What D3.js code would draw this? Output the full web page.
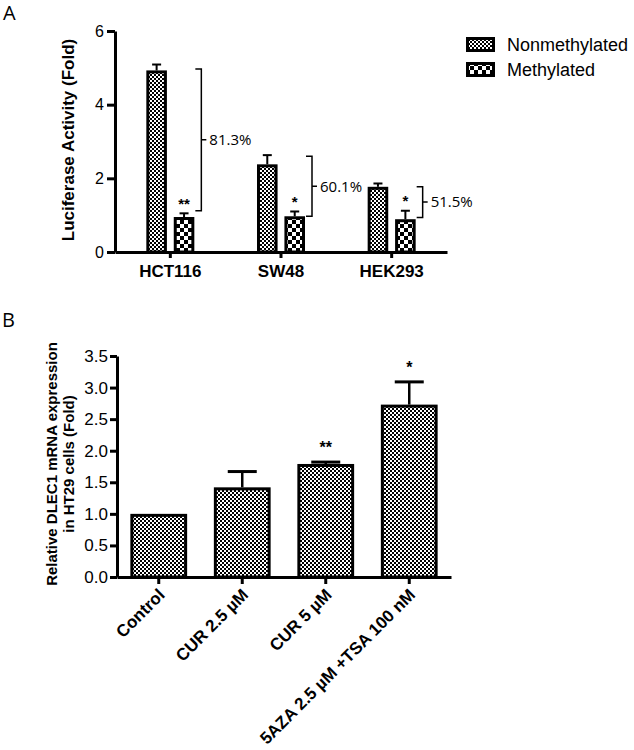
<!DOCTYPE html>
<html>
<head>
<meta charset="utf-8">
<script src="https://cdn.jsdelivr.net/npm/d3@7"></script>
<style>
  body { margin: 0; background: #fff; }
  svg { display: block; font-family: "Liberation Sans", Arial, sans-serif; }
</style>
</head>
<body>
<div id="chart"></div>
<script>
// ---- panel A data ----
var groupsA = ["HCT116", "SW48", "HEK293"];
var seriesA = ["Nonmethylated", "Methylated"];
var nonmethMean = [4.93, 2.38, 1.77];
var nonmethErr = [0.16, 0.25, 0.09];
var methMean = [0.95, 0.97, 0.89];
var methErr = [0.10, 0.13, 0.23];
var starsA = ["**", "*", "*"];
var reductionA = ["81.3%", "60.1%", "51.5%"];
var bracketTop = [4.97, 2.6, 1.77];
var bracketBottom = [1.12, 0.97, 0.94];
var ticksA = [0, 2, 4, 6];

// ---- panel B data ----
var groupsB = ["Control", "CUR 2.5 \u00b5M", "CUR 5 \u00b5M", "5AZA 2.5 \u00b5M +TSA 100 nM"];
var meanB = [1.0, 1.42, 1.79, 2.73];
var errB = [0, 0.25, 0.03, 0.36];
var starsB = ["", "", "**", "*"];
var ticksB = [0, 0.5, 1, 1.5, 2, 2.5, 3, 3.5];

var svgWidth = 634;
var svgHeight = 750;

var svg = d3.select("#chart")
  .append("svg")
  .attr("width", svgWidth)
  .attr("height", svgHeight);

// checker patterns
var defs = svg.append("defs");
function checker(id, s) {
  var p = defs.append("pattern")
    .attr("id", id)
    .attr("patternUnits", "userSpaceOnUse")
    .attr("width", s * 2)
    .attr("height", s * 2);
  p.append("rect").attr("width", s * 2).attr("height", s * 2).attr("fill", "#fff");
  p.append("rect").attr("width", s).attr("height", s).attr("fill", "#000");
  p.append("rect").attr("x", s).attr("y", s).attr("width", s).attr("height", s).attr("fill", "#000");
}
checker("fine", 2);
checker("coarse", 4);
var fills = {"Nonmethylated": "url(#fine)", "Methylated": "url(#coarse)"};

function styleAxis(g, fs, bold) {
  g.select(".domain").attr("stroke", "#000").attr("stroke-width", 3);
  g.selectAll(".tick line").attr("stroke", "#000").attr("stroke-width", 3);
  g.selectAll(".tick text")
    .attr("fill", "#000")
    .style("font-size", fs + "px")
    .style("font-weight", bold ? "bold" : "normal");
}

// =================== PANEL A ===================
var yA = d3.scaleLinear().domain([0, 6]).range([252, 31]);
var xA = d3.scaleBand().domain(groupsA).range([115, 447]);
var xSub = d3.scaleBand().domain(seriesA).range([-24, 24]).paddingInner(0.25);

svg.append("text")
  .attr("x", 3).attr("y", 20)
  .style("font-family", "'Open Sans', sans-serif")
  .style("font-size", "20px")
  .text("A");

var yAxisA = svg.append("g")
  .attr("transform", "translate(115,0)")
  .call(d3.axisLeft(yA).tickValues(ticksA).tickSize(8).tickSizeOuter(0).tickPadding(3).tickFormat(d3.format("d")));
styleAxis(yAxisA, 16, false);

var xAxisA = svg.append("g")
  .attr("transform", "translate(0,252)")
  .call(d3.axisBottom(xA).tickSize(6).tickSizeOuter(0).tickPadding(7));
styleAxis(xAxisA, 17, true);

svg.append("text")
  .attr("transform", "translate(74,140) rotate(-90)")
  .attr("text-anchor", "middle")
  .style("font-size", "17px")
  .style("font-weight", "bold")
  .text("Luciferase Activity (Fold)");

// bar rows
var rowsA = [];
groupsA.forEach(function(g, i) {
  rowsA.push({group: g, series: "Nonmethylated", mean: nonmethMean[i], err: nonmethErr[i], star: ""});
  rowsA.push({group: g, series: "Methylated", mean: methMean[i], err: methErr[i], star: starsA[i]});
});

var barA = svg.append("g").selectAll("g")
  .data(rowsA)
  .enter()
  .append("g");

barA.append("line")
  .attr("x1", d => xA(d.group) + xA.bandwidth() / 2 + xSub(d.series) + xSub.bandwidth() / 2)
  .attr("x2", d => xA(d.group) + xA.bandwidth() / 2 + xSub(d.series) + xSub.bandwidth() / 2)
  .attr("y1", d => yA(d.mean))
  .attr("y2", d => yA(d.mean + d.err))
  .attr("stroke", "#000").attr("stroke-width", 2);

barA.append("line")
  .attr("x1", d => xA(d.group) + xA.bandwidth() / 2 + xSub(d.series) + xSub.bandwidth() / 2 - 4.5)
  .attr("x2", d => xA(d.group) + xA.bandwidth() / 2 + xSub(d.series) + xSub.bandwidth() / 2 + 4.5)
  .attr("y1", d => yA(d.mean + d.err))
  .attr("y2", d => yA(d.mean + d.err))
  .attr("stroke", "#000").attr("stroke-width", 2);

barA.append("rect")
  .attr("x", d => xA(d.group) + xA.bandwidth() / 2 + xSub(d.series) + 1.5)
  .attr("y", d => yA(d.mean) + 1.5)
  .attr("width", xSub.bandwidth() - 3)
  .attr("height", d => yA(0) - yA(d.mean) - 1.5)
  .attr("fill", d => fills[d.series])
  .attr("stroke", "#000").attr("stroke-width", 3);

barA.append("text")
  .attr("x", d => xA(d.group) + xA.bandwidth() / 2 + xSub(d.series) + xSub.bandwidth() / 2)
  .attr("y", d => yA(d.mean + d.err) - 4.5)
  .attr("text-anchor", "middle")
  .style("font-size", "15px")
  .style("font-weight", "bold")
  .text(d => d.star);

// brackets with % reduction
var brackets = svg.append("g").selectAll("g")
  .data(groupsA)
  .enter()
  .append("g");

brackets.append("path")
  .attr("d", function(d, i) {
    var bx = xA(d) + xA.bandwidth() / 2 + 31;
    var t = yA(bracketTop[i]), b = yA(bracketBottom[i]);
    return "M" + (bx - 6) + "," + t + "H" + bx + "V" + b + "H" + (bx - 6) +
      "M" + bx + "," + ((t + b) / 2) + "H" + (bx + 5);
  })
  .attr("fill", "none")
  .attr("stroke", "#000")
  .attr("stroke-width", 1.5);

brackets.append("text")
  .attr("x", d => xA(d) + xA.bandwidth() / 2 + 39)
  .attr("y", (d, i) => (yA(bracketTop[i]) + yA(bracketBottom[i])) / 2)
  .attr("dy", "0.35em")
  .style("font-family", "'Open Sans', sans-serif")
  .style("font-size", "15px")
  .text((d, i) => reductionA[i]);

// legend
var legend = svg.append("g").selectAll("g")
  .data(seriesA)
  .enter()
  .append("g")
  .attr("transform", (d, i) => "translate(466," + (37 + i * 25) + ")");

legend.append("rect")
  .attr("x", 1.5).attr("y", 1.5)
  .attr("width", 26).attr("height", 12)
  .attr("fill", d => fills[d])
  .attr("stroke", "#000").attr("stroke-width", 3);

legend.append("text")
  .attr("x", 41).attr("y", 8)
  .attr("dy", "0.35em")
  .style("font-size", "18px")
  .text(d => d);

// =================== PANEL B ===================
var yB = d3.scaleLinear().domain([0, 3.5]).range([577, 356]);
var xB = d3.scaleBand().domain(groupsB).range([117, 451]).paddingInner(0.32).paddingOuter(0.16);

svg.append("text")
  .attr("x", 2).attr("y", 327)
  .style("font-family", "'Open Sans', sans-serif")
  .style("font-size", "20px")
  .text("B");

var yAxisB = svg.append("g")
  .attr("transform", "translate(117,0)")
  .call(d3.axisLeft(yB).tickValues(ticksB).tickSize(7).tickSizeOuter(0).tickPadding(2).tickFormat(d3.format(".1f")));
styleAxis(yAxisB, 17, false);

var xAxisB = svg.append("g")
  .attr("transform", "translate(0,577)")
  .call(d3.axisBottom(xB).tickSize(7).tickSizeOuter(0));
styleAxis(xAxisB, 17, true);
xAxisB.selectAll(".tick text")
  .attr("y", 0)
  .attr("dy", null)
  .attr("transform", "translate(7,19) rotate(-45)")
  .style("text-anchor", "end");

var titleB = svg.append("text")
  .attr("transform", "translate(57,464) rotate(-90)")
  .attr("text-anchor", "middle")
  .style("font-size", "15px")
  .style("font-weight", "bold");
titleB.append("tspan").attr("x", 0).attr("y", 0).text("Relative DLEC1 mRNA expression");
titleB.append("tspan").attr("x", 0).attr("y", 17).text("in HT29 cells (Fold)");

var rowsB = groupsB.map((g, i) => ({group: g, mean: meanB[i], err: errB[i], star: starsB[i]}));

var barB = svg.append("g").selectAll("g")
  .data(rowsB)
  .enter()
  .append("g");

barB.filter(d => d.err > 0).append("line")
  .attr("x1", d => xB(d.group) + xB.bandwidth() / 2)
  .attr("x2", d => xB(d.group) + xB.bandwidth() / 2)
  .attr("y1", d => yB(d.mean))
  .attr("y2", d => yB(d.mean + d.err))
  .attr("stroke", "#000").attr("stroke-width", 2.5);

barB.filter(d => d.err > 0).append("line")
  .attr("x1", d => xB(d.group) + xB.bandwidth() / 2 - 14.5)
  .attr("x2", d => xB(d.group) + xB.bandwidth() / 2 + 14.5)
  .attr("y1", d => yB(d.mean + d.err))
  .attr("y2", d => yB(d.mean + d.err))
  .attr("stroke", "#000").attr("stroke-width", 3);

barB.append("rect")
  .attr("x", d => xB(d.group) + 1.5)
  .attr("y", d => yB(d.mean) + 1.5)
  .attr("width", xB.bandwidth() - 3)
  .attr("height", d => yB(0) - yB(d.mean) - 1.5)
  .attr("fill", "url(#fine)")
  .attr("stroke", "#000").attr("stroke-width", 3);

barB.append("text")
  .attr("x", d => xB(d.group) + xB.bandwidth() / 2)
  .attr("y", d => yB(d.mean + d.err) - 9)
  .attr("text-anchor", "middle")
  .style("font-size", "16px")
  .style("font-weight", "bold")
  .text(d => d.star);
</script>
</body>
</html>
